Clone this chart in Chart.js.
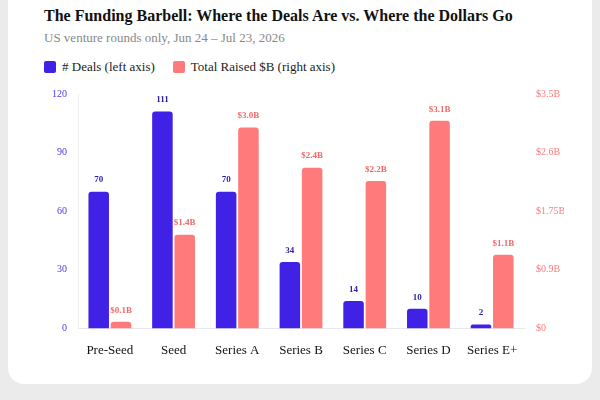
<!DOCTYPE html>
<html>
<head>
<meta charset="utf-8">
<script src="https://cdn.jsdelivr.net/npm/chart.js@4"></script>
<style>
  body { margin: 0; background: #ebebeb; width: 600px; height: 400px; overflow: hidden; }
  .card { position: absolute; left: 8px; top: -20px; width: 584px; height: 404px; background: #fff; border-radius: 16px; }
  .serif { font-family: "Liberation Serif", "Times New Roman", serif; }
  h1 { position: absolute; left: 44px; top: 7px; margin: 0; font-size: 16px; font-weight: bold; color: #111; }
  .sub { position: absolute; left: 44px; top: 30px; font-size: 13px; color: #888; }
  .legend { position: absolute; left: 44px; top: 59px; font-size: 13px; color: #222; display: flex; gap: 18px; }
  .legend span { display: inline-flex; align-items: center; }
  .legend i { display: inline-block; width: 12px; height: 12px; border-radius: 2px; margin-right: 6px; }
  .wrap { position: absolute; left: 38px; top: 84px; width: 526px; height: 280px; }
</style>
</head>
<body>
<div class="card"></div>
<h1 class="serif">The Funding Barbell: Where the Deals Are vs. Where the Dollars Go</h1>
<div class="sub serif">US venture rounds only, Jun 24 – Jul 23, 2026</div>
<div class="legend serif">
  <span class="serif"><i style="background:#3f22e6"></i># Deals (left axis)</span>
  <span class="serif"><i style="background:#ff7b7b"></i>Total Raised $B (right axis)</span>
</div>
<div class="wrap"><canvas id="chart"></canvas></div>
<script>
const categories = ["Pre-Seed", "Seed", "Series A", "Series B", "Series C", "Series D", "Series E+"];
const deals = [70, 111, 70, 34, 14, 10, 2];
const raised = [0.1, 1.4, 3.0, 2.4, 2.2, 3.1, 1.1];
const leftTicks = [0, 30, 60, 90, 120];
const rightTicks = [0, 0.875, 1.75, 2.625, 3.5];

const blue = "#3f22e6";
const red = "#ff7b7b";

const barLabels = {
  id: "barLabels",
  afterDatasetsDraw(chart) {
    const ctx = chart.ctx;
    ctx.save();
    ctx.font = "bold 9px 'Liberation Serif', serif";
    ctx.textAlign = "center";
    ctx.textBaseline = "bottom";
    chart.data.datasets.forEach((ds, i) => {
      ctx.fillStyle = i === 0 ? "#2a1fb0" : "#f06a6a";
      chart.getDatasetMeta(i).data.forEach((bar, j) => {
        const v = ds.data[j];
        const text = i === 0 ? String(v) : "$" + v.toFixed(1) + "B";
        ctx.fillText(text, bar.x, bar.y - 7);
      });
    });
    ctx.restore();
  },
};

new Chart(document.getElementById("chart"), {
  type: "bar",
  data: {
    labels: categories,
    datasets: [
      { label: "# Deals (left axis)", data: deals, backgroundColor: blue, yAxisID: "y", borderRadius: { topLeft: 3, topRight: 3 }, borderSkipped: "bottom", categoryPercentage: 0.7, barPercentage: 0.92 },
      { label: "Total Raised $B (right axis)", data: raised, backgroundColor: red, yAxisID: "y1", borderRadius: { topLeft: 3, topRight: 3 }, borderSkipped: "bottom", categoryPercentage: 0.7, barPercentage: 0.92 },
    ],
  },
  options: {
    responsive: true,
    maintainAspectRatio: false,
    animation: false,
    layout: { padding: { top: 8 } },
    plugins: { legend: { display: false }, tooltip: { enabled: false } },
    scales: {
      x: {
        grid: { display: false },
        border: { color: "#e8e8ee" },
        ticks: { color: "#111", font: { family: "Liberation Serif", size: 13 }, padding: 6 },
      },
      y: {
        position: "left",
        min: 0, max: 120,
        afterBuildTicks: (s) => { s.ticks = leftTicks.map((v) => ({ value: v })); },
        afterFit: (s) => { s.width = 40; },
        grid: { display: false },
        border: { color: "#eeeef2" },
        ticks: { color: "#4a3aea", crossAlign: "near", font: { family: "Liberation Serif", size: 10 } },
      },
      y1: {
        position: "right",
        min: 0, max: 3.5,
        afterBuildTicks: (s) => { s.ticks = rightTicks.map((v) => ({ value: v })); },
        afterFit: (s) => { s.width = 40; },
        grid: { display: false },
        border: { display: false },
        ticks: {
          color: red, crossAlign: "near", padding: 4, font: { family: "Liberation Serif", size: 10 },
          callback: (v) => v === 0 ? "$0" : "$" + (v === 1.75 ? "1.75" : v.toFixed(1)) + "B",
        },
      },
    },
  },
  plugins: [barLabels],
});
</script>
</body>
</html>
